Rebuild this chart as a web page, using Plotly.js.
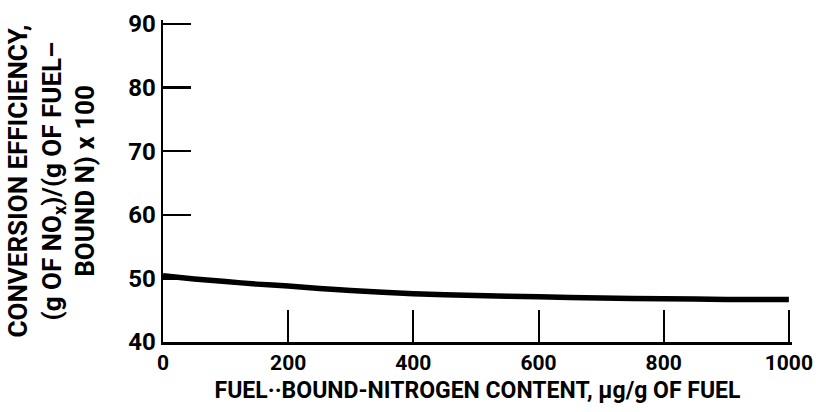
<!DOCTYPE html>
<html>
<head>
<meta charset="utf-8">
<script src="https://cdn.plot.ly/plotly-3.0.1.min.js"></script>
<style>
  html, body { margin: 0; padding: 0; background: #fff; }
  #chart { width: 816px; height: 412px; }
</style>
</head>
<body>
<div id="chart"></div>
<script>
// Fuel-bound nitrogen content, ug/g of fuel
const nitrogenContent = [0, 50, 100, 150, 200, 250, 300, 400, 500, 600, 700, 800, 900, 1000];
// Conversion efficiency, (g of NOx)/(g of fuel-bound N) x 100
const conversionEfficiency = [50.4, 49.9, 49.5, 49.1, 48.8, 48.4, 48.1, 47.6, 47.3, 47.1, 46.9, 46.8, 46.7, 46.7];

const xTicks = [0, 200, 400, 600, 800, 1000];
const yTicks = [40, 50, 60, 70, 80, 90];

const font = 'Roboto, "Liberation Sans", sans-serif';

const trace = {
  x: nitrogenContent,
  y: conversionEfficiency,
  type: 'scatter',
  mode: 'lines',
  line: { color: '#000', width: 5.5, shape: 'spline', smoothing: 0.6 },
  hoverinfo: 'skip'
};

const layout = {
  width: 816,
  height: 412,
  margin: { l: 163, r: 24, t: 20, b: 70 },
  paper_bgcolor: '#fff',
  plot_bgcolor: '#fff',
  showlegend: false,
  font: { family: font, color: '#000', size: 23, weight: 'bold' },
  xaxis: {
    range: [0, 1005],
    tickvals: xTicks,
    ticktext: xTicks.map(String),
    ticks: 'inside',
    ticklen: 32,
    tickwidth: 2,
    tickcolor: '#000',
    showline: true,
    linecolor: '#000',
    linewidth: 2.5,
    showgrid: false,
    zeroline: false,
    ticklabeloverflow: 'allow',
    tickfont: { family: font, size: 21, color: '#000', weight: 'bold' },
    title: {
      text: 'FUEL\u00b7\u00b7BOUND-NITROGEN CONTENT, \u00b5g/g OF FUEL',
      font: { family: font, size: 23, color: '#000', weight: 'bold' },
      standoff: 8
    }
  },
  yaxis: {
    range: [40, 90.63],
    tickvals: yTicks,
    ticktext: yTicks.map(String),
    ticks: 'inside',
    ticklen: 28,
    tickwidth: 2.5,
    tickcolor: '#000',
    showline: true,
    linecolor: '#000',
    linewidth: 2.5,
    showgrid: false,
    zeroline: false,
    tickfont: { family: font, size: 24, color: '#000', weight: 'bold' },
    title: {
      text: 'CONVERSION EFFICIENCY,<br>(g OF NO<sub>x</sub>)/(g OF FUEL\u2013<br>BOUND N) x 100',
      font: { family: font, size: 26, color: '#000', weight: 'bold' },
      standoff: 26
    }
  }
};

Plotly.newPlot('chart', [trace], layout, { displayModeBar: false, staticPlot: true });
</script>
</body>
</html>
